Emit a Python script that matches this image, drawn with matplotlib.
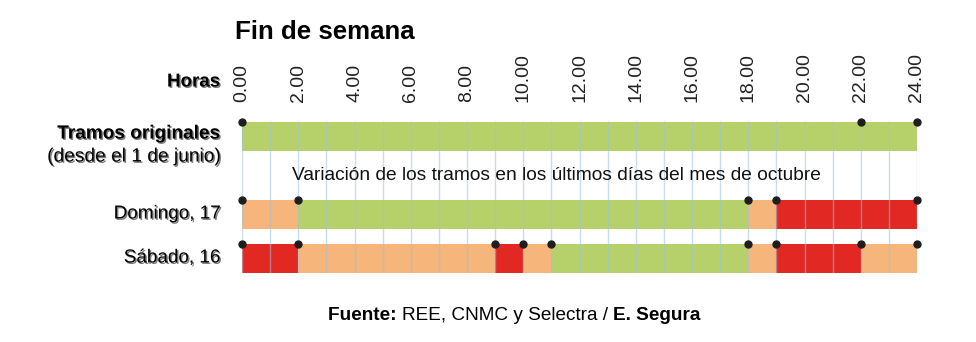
import matplotlib
matplotlib.use("Agg")
import matplotlib.pyplot as plt
import matplotlib.patheffects as pe

plt.rcParams['font.family'] = ['Liberation Sans', 'DejaVu Sans']

# datos
horas = list(range(0, 25, 2))
etiquetas_horas = [f"{h}.00" for h in horas]

filas = ["Tramos originales", "Domingo, 17", "Sábado, 16"]
original_inicio = [0, 22]
original_fin = [22, 24]
original_tramo = ["valle", "valle"]
domingo_inicio = [0, 2, 18, 19]
domingo_fin = [2, 18, 19, 24]
domingo_tramo = ["llano", "valle", "llano", "punta"]
sabado_inicio = [0, 2, 9, 10, 11, 18, 19, 22]
sabado_fin = [2, 9, 10, 11, 18, 19, 22, 24]
sabado_tramo = ["punta", "llano", "punta", "llano", "valle", "llano", "punta", "llano"]

colores = {"valle": "#b7d16a", "llano": "#f5b57b", "punta": "#e12822"}

W, H = 976, 342
fig = plt.figure(figsize=(W / 100, H / 100), dpi=100)

def fx(px):
    return px / W

def fy(py):
    return 1 - py / H

x0, x1, ytop, ybot = 242, 917, 121, 273
ax = fig.add_axes([fx(x0), fy(ybot), fx(x1 - x0), (ybot - ytop) / H])
ax.set_xlim(0, 24)
ax.set_ylim(ybot, ytop)
ax.axis("off")

# posicion vertical de cada fila (px)
filas_y = [(121.5, 29.5), (199.5, 29.5), (244, 29.5)]
series = [(original_inicio, original_fin, original_tramo),
          (domingo_inicio, domingo_fin, domingo_tramo),
          (sabado_inicio, sabado_fin, sabado_tramo)]

for (y, h), (ini, fin, tramo) in zip(filas_y, series):
    ax.broken_barh([(a, b - a) for a, b in zip(ini, fin)], (y, h),
                   facecolors=[colores[t] for t in tramo], zorder=2)
    puntos = ini + [fin[-1]]
    ax.plot(puntos, [y] * len(puntos), "o", color="#1e1e1e", ms=5, zorder=5,
            clip_on=False)

ax.vlines(range(25), ytop, ybot, color="#9fc2de", lw=1, alpha=0.55, zorder=3)

for h, lab in zip(horas, etiquetas_horas):
    ax.text(h, 102, lab, rotation=90, ha="center", va="bottom", fontsize=14,
            color="#222222", clip_on=False)

sombra = [pe.SimplePatchShadow(offset=(1, -1), shadow_rgbFace="#444444", alpha=0.7),
          pe.Normal()]

fig.text(fx(235), fy(32), "Fin de semana", fontsize=18.6, fontweight="bold",
         ha="left", va="center")
fig.text(fx(220), fy(82), "Horas", fontsize=13.5, fontweight="bold",
         ha="right", va="center", path_effects=sombra)
fig.text(fx(220), fy(134), filas[0], fontsize=13.7, fontweight="bold",
         ha="right", va="center", path_effects=sombra)
fig.text(fx(220), fy(157), "(desde el 1 de junio)", fontsize=13.8,
         ha="right", va="center", path_effects=sombra)
fig.text(fx(220), fy(214), filas[1], fontsize=13.6, ha="right", va="center",
         path_effects=sombra)
fig.text(fx(220), fy(258), filas[2], fontsize=13.6, ha="right", va="center",
         path_effects=sombra)

fig.text(fx(556), fy(175), "Variación de los tramos en los últimos días del mes de octubre",
         fontsize=13.8, ha="center", va="center", color="#111111", zorder=6)

# fuente
partes = [("Fuente: ", "bold"), ("REE, CNMC y Selectra / ", "normal"), ("E. Segura", "bold")]
r = fig.canvas.get_renderer()
textos = [fig.text(0, fy(315), t, fontsize=13.7, fontweight=w, va="center")
          for t, w in partes]
anchos = [t.get_window_extent(r).width for t in textos]
x = 514 - sum(anchos) / 2
for t, a in zip(textos, anchos):
    t.set_x(fx(x))
    x += a

fig.savefig("out.png", dpi=100)
